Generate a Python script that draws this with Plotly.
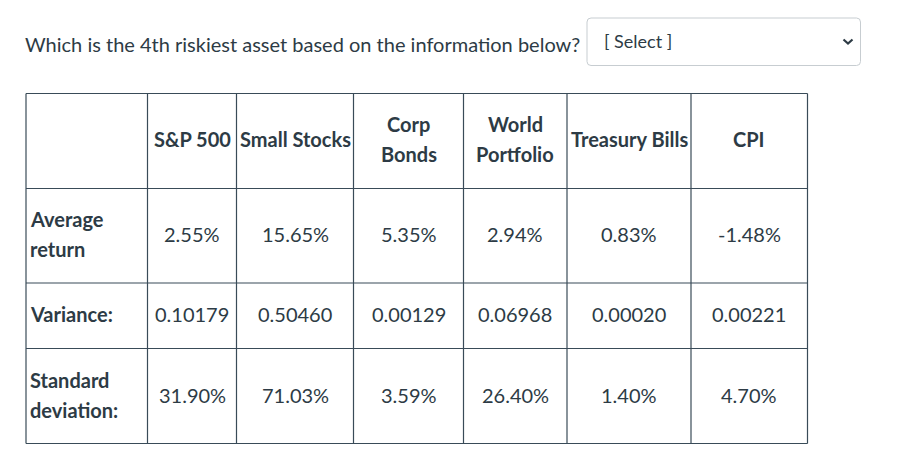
import plotly.graph_objects as go

question = "Which is the 4th riskiest asset based on the information below?"
select_label = "[ Select ]"

assets = ["S&P 500", "Small Stocks", "Corp\nBonds", "World\nPortfolio", "Treasury Bills", "CPI"]
row_labels = ["Average\nreturn", "Variance:", "Standard\ndeviation:"]
avg_return = ["2.55%", "15.65%", "5.35%", "2.94%", "0.83%", "-1.48%"]
variance = ["0.10179", "0.50460", "0.00129", "0.06968", "0.00020", "0.00221"]
std_dev = ["31.90%", "71.03%", "3.59%", "26.40%", "1.40%", "4.70%"]
rows = [avg_return, variance, std_dev]

# layout geometry (pixels)
W, H = 904, 471
col_edges = [26, 147.5, 236.5, 353.5, 463.5, 567, 691, 807.5]
row_edges = [93.5, 188.5, 283, 348.5, 443.5]
TXT = "#2d3b45"
BORDER = "#394b58"
FONT = "Lato, 'Open Sans', sans-serif"
FS = 20
LINE = 30
DY = -1.5

shapes = []
annotations = []

# table grid
for x in col_edges:
    shapes.append(dict(type="line", x0=x, x1=x, y0=row_edges[0], y1=row_edges[-1],
                       line=dict(color=BORDER, width=1.2), layer="above"))
for y in row_edges:
    shapes.append(dict(type="line", x0=col_edges[0], x1=col_edges[-1], y0=y, y1=y,
                       line=dict(color=BORDER, width=1.2), layer="above"))


def add_text(text, x, yc, xanchor="center", bold=False):
    lines = text.split("\n")
    n = len(lines)
    for i, ln in enumerate(lines):
        y = yc + DY + (i - (n - 1) / 2) * LINE
        annotations.append(dict(
            x=x, y=y, xref="x", yref="y", text=f"<b>{ln}</b>" if bold else ln,
            showarrow=False, xanchor=xanchor, yanchor="middle",
            font=dict(family=FONT, size=FS, color=TXT)))


# header
hy = (row_edges[0] + row_edges[1]) / 2 - 1
for j, name in enumerate(assets):
    xc = (col_edges[j + 1] + col_edges[j + 2]) / 2
    add_text(name, xc, hy, bold=True)

# body
for i, (lab, vals) in enumerate(zip(row_labels, rows)):
    yc = (row_edges[i + 1] + row_edges[i + 2]) / 2
    add_text(lab, col_edges[0] + 1.5, yc, xanchor="left", bold=True)
    for j, v in enumerate(vals):
        xc = (col_edges[j + 1] + col_edges[j + 2]) / 2
        add_text(v, xc, yc)

# question
annotations.append(dict(x=23, y=43.5, xref="x", yref="y", text=question, showarrow=False,
                        xanchor="left", yanchor="middle",
                        font=dict(family=FONT, size=20, color=TXT)))

# select box (rounded rect)
x0, x1, y0, y1, r = 587, 860.5, 18, 65.5, 4
path = (f"M{x0+r},{y0} L{x1-r},{y0} Q{x1},{y0} {x1},{y0+r} L{x1},{y1-r} Q{x1},{y1} {x1-r},{y1} "
        f"L{x0+r},{y1} Q{x0},{y1} {x0},{y1-r} L{x0},{y0+r} Q{x0},{y0} {x0+r},{y0} Z")
shapes.append(dict(type="path", path=path, line=dict(color="#c7cdd1", width=1), fillcolor="white"))
annotations.append(dict(x=602, y=41, xref="x", yref="y", text=select_label, showarrow=False,
                        xanchor="left", yanchor="middle",
                        font=dict(family="'Liberation Sans Narrow', Lato, sans-serif", size=18, color=TXT)))
shapes.append(dict(type="path", path="M843.5,39.5 L848,43.5 L852.5,39.5",
                   line=dict(color=TXT, width=2.2)))

fig = go.Figure()
fig.add_trace(go.Scatter(x=[0, W], y=[0, H], mode="markers", marker=dict(opacity=0),
                         hoverinfo="skip", showlegend=False))
fig.update_layout(
    width=W, height=H, margin=dict(l=0, r=0, t=0, b=0),
    paper_bgcolor="white", plot_bgcolor="white",
    xaxis=dict(range=[0, W], visible=False, fixedrange=True),
    yaxis=dict(range=[H, 0], visible=False, fixedrange=True),
    shapes=shapes, annotations=annotations, showlegend=False,
)
fig.write_html("out.html", config={"displayModeBar": False},
               post_script="document.body.style.margin='0';document.body.style.overflow='hidden';")
